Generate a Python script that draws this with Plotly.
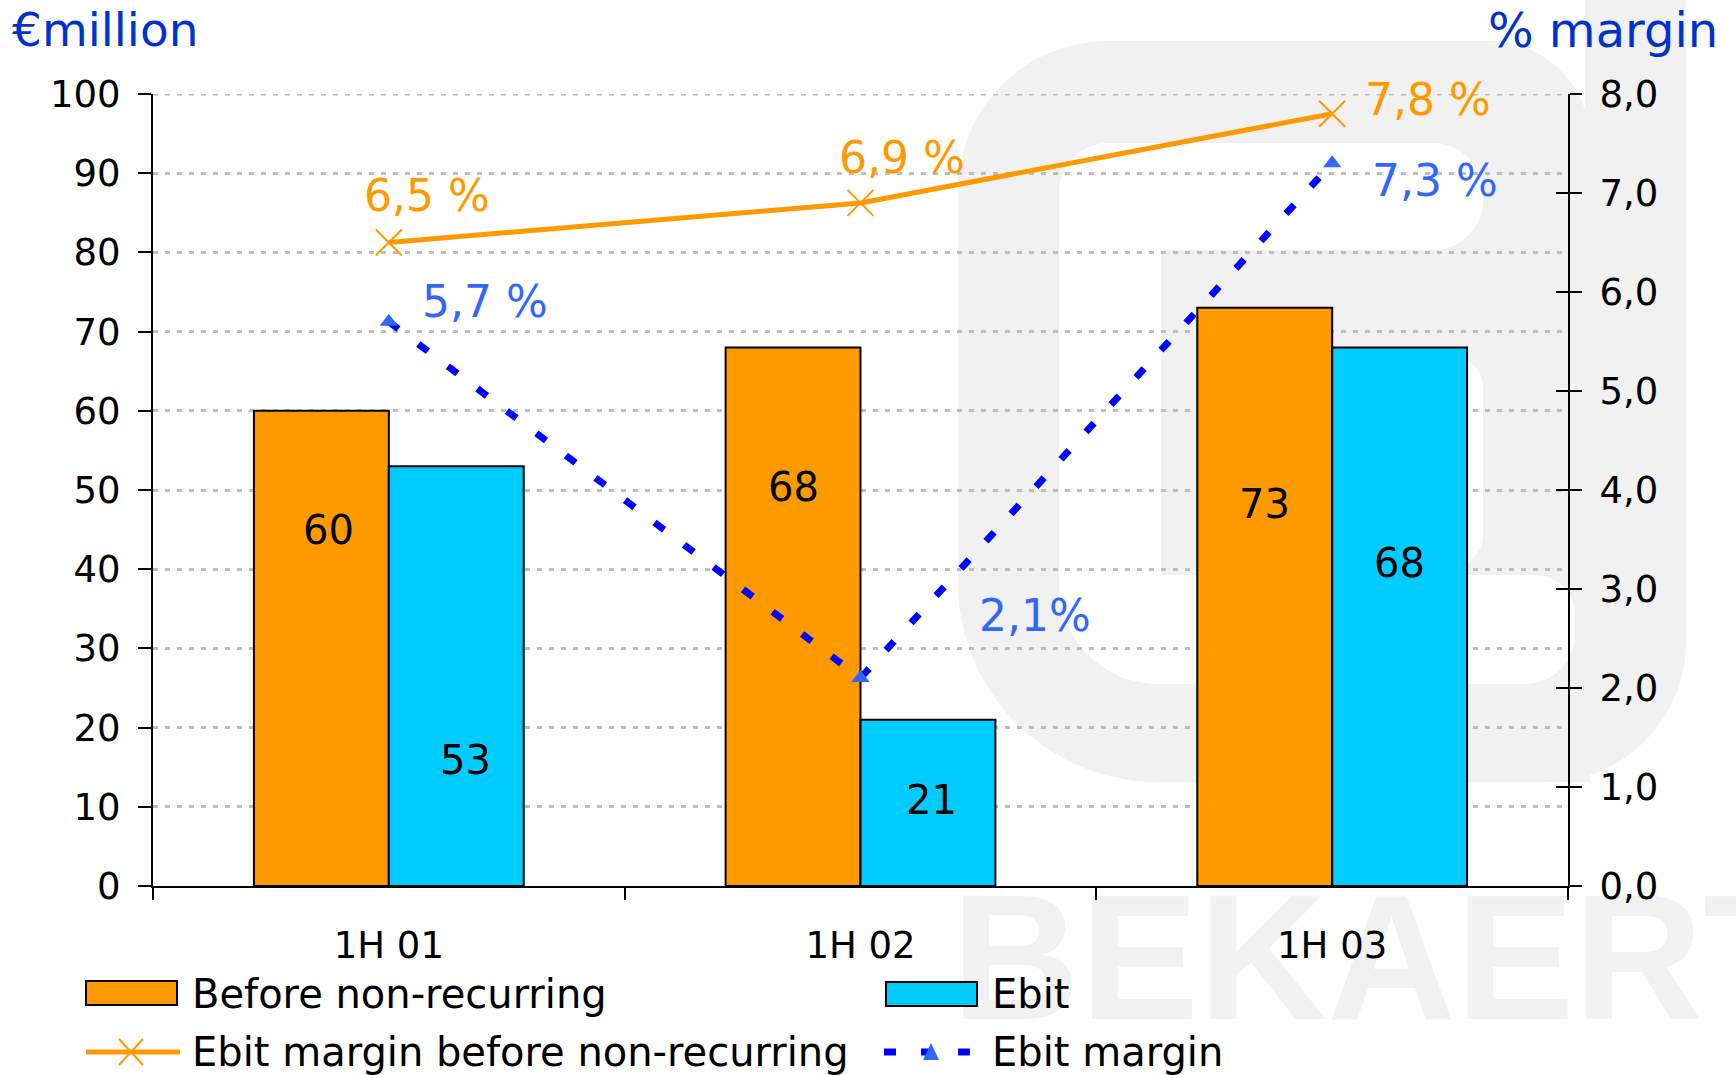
import plotly.graph_objects as go

# ---- data -------------------------------------------------------------
categories = ["1H 01", "1H 02", "1H 03"]
before_non_recurring = [60, 68, 73]          # EUR million
ebit = [53, 21, 68]                          # EUR million
margin_before_non_recurring = [6.5, 6.9, 7.8]  # % margin
ebit_margin = [5.7, 2.1, 7.3]                  # % margin
ebit_margin_suffix = [" %", "%", " %"]

amount_ticks = list(range(0, 101, 10))
margin_ticks = list(range(0, 9))
margin_tick_text = [f"{v:.1f}".replace(".", ",") for v in margin_ticks]

# ---- styling / placement ---------------------------------------------
W, H = 1736, 1075
PL, PR, PT, PB = 153, 1568, 94, 886          # plot area in pixels
FONT = "DejaVu Sans"
ORANGE = "#FF9900"
CYAN = "#00CCFF"
TITLE_BLUE = "#0033CC"
LABEL_BLUE = "#3366FF"
LINE_BLUE = "#0000FF"
WM = "#F1F1F1"                                # watermark grey
GRID = "#BEBEBE"
GRID_DASH = "5px,7px"
BW = 0.286                                    # bar width in category units

# where the value label sits, as a fraction of the bar height, plus x nudge (px)
orange_label_frac = [0.75, 0.74, 0.66]
orange_label_dx = [7, 0, 0]
cyan_label_frac = [0.30, 0.52, 0.60]
cyan_label_dx = [9, 4, 0]

# pixel offsets of the margin labels from their points
orange_pct_shift = [(38, 47), (41, 45), (96, 14)]
blue_pct_shift = [(96, 20), (174, 63), (103, -17)]


def xp(px):
    return (px - PL) / (PR - PL)


def yp(py):
    return (PB - py) / (PB - PT)


def fmt_pct(v, suffix=" %"):
    return f"{v:.1f}".replace(".", ",") + suffix


def rounded_rect(x0, y0, x1, y1, tl=0, tr=0, br=0, bl=0):
    """SVG path (paper coords) of a rectangle given in pixels with rounded corners."""
    k = 0.5523

    def P(x, y):
        return f"{xp(x):.5f},{yp(y):.5f}"

    d = [f"M{P(x0 + tl, y0)}", f"L{P(x1 - tr, y0)}"]
    if tr:
        d.append(f"C{P(x1 - tr + k * tr, y0)} {P(x1, y0 + tr - k * tr)} {P(x1, y0 + tr)}")
    d.append(f"L{P(x1, y1 - br)}")
    if br:
        d.append(f"C{P(x1, y1 - br + k * br)} {P(x1 - br + k * br, y1)} {P(x1 - br, y1)}")
    d.append(f"L{P(x0 + bl, y1)}")
    if bl:
        d.append(f"C{P(x0 + bl - k * bl, y1)} {P(x0, y1 - bl + k * bl)} {P(x0, y1 - bl)}")
    d.append(f"L{P(x0, y0 + tl)}")
    if tl:
        d.append(f"C{P(x0, y0 + tl - k * tl)} {P(x0 + tl - k * tl, y0)} {P(x0 + tl, y0)}")
    d.append("Z")
    return " ".join(d)


fig = go.Figure()

# ---- watermark word: anchored on the baseline, hanging below the axis ----
fig.add_trace(go.Scatter(
    x=[categories[-1]], y=[0.01], mode="text", text=["\u00a0\u00a0BEKAERT"],
    textposition="bottom center", cliponaxis=False,
    textfont=dict(family="Liberation Sans", size=178, color=WM, weight="bold"),
    showlegend=False, hoverinfo="skip",
))

# ---- bars -------------------------------------------------------------
fig.add_trace(go.Bar(
    x=categories, y=before_non_recurring, width=BW, offset=-BW,
    marker=dict(color=ORANGE, line=dict(color="black", width=2)),
    name="Before non-recurring", hoverinfo="skip",
))
fig.add_trace(go.Bar(
    x=categories, y=ebit, width=BW, offset=0,
    marker=dict(color=CYAN, line=dict(color="black", width=2)),
    name="Ebit", hoverinfo="skip",
))

# ---- margin lines (right axis) --------------------------------------
fig.add_trace(go.Scatter(
    x=categories, y=margin_before_non_recurring, yaxis="y2",
    mode="lines+markers",
    line=dict(color=ORANGE, width=5),
    marker=dict(symbol="x-thin-open", size=26, color=ORANGE,
                line=dict(color=ORANGE, width=2)),
    name="Ebit margin before non-recurring", hoverinfo="skip",
))
fig.add_trace(go.Scatter(
    x=categories, y=ebit_margin, yaxis="y2",
    mode="lines+markers",
    line=dict(color=LINE_BLUE, width=7, dash="12px,25px"),
    marker=dict(symbol="triangle-up", size=16, color=LABEL_BLUE),
    name="Ebit margin", hoverinfo="skip",
))
# carrier for the inner half of the right-axis tick marks
fig.add_trace(go.Scatter(x=[], y=[], yaxis="y3", showlegend=False, hoverinfo="skip"))

# ---- watermark logo shapes -------------------------------------------
shapes = []
for path, col in [
    (rounded_rect(958, 41, 1590, 782, tl=150, tr=100, bl=200), WM),
    (rounded_rect(1585, 0, 1686, 782, br=140), WM),
    (rounded_rect(1059, 143, 1483, 250, tl=50, tr=50, br=50), "white"),
    (rounded_rect(1059, 143, 1161, 684, tl=50, bl=100), "white"),
    (rounded_rect(1059, 575, 1575, 684, bl=100, br=50, tr=40), "white"),
    (rounded_rect(1265, 357, 1483, 566, tl=30, tr=30, br=30, bl=30), "white"),
]:
    shapes.append(dict(type="path", xref="paper", yref="paper", path=path,
                       fillcolor=col, line=dict(width=0), layer="below"))

# top gridline (sits on the upper edge of the value range)
shapes.append(dict(type="line", xref="paper", yref="y", x0=0, x1=1,
                   y0=amount_ticks[-1], y1=amount_ticks[-1], layer="below",
                   line=dict(color=GRID, width=3, dash=GRID_DASH)))

# ---- legend drawn by hand --------------------------------------------
shapes += [
    dict(type="rect", xref="paper", yref="paper", x0=xp(86), x1=xp(177), y0=yp(981), y1=yp(1005),
         fillcolor=ORANGE, line=dict(color="black", width=2)),
    dict(type="rect", xref="paper", yref="paper", x0=xp(886), x1=xp(977), y0=yp(982), y1=yp(1006),
         fillcolor=CYAN, line=dict(color="black", width=2)),
    dict(type="line", xref="paper", yref="paper", x0=xp(86), x1=xp(180), y0=yp(1052), y1=yp(1052),
         line=dict(color=ORANGE, width=5)),
    dict(type="line", xref="paper", yref="paper", x0=xp(119), x1=xp(143), y0=yp(1039), y1=yp(1065),
         line=dict(color=ORANGE, width=2)),
    dict(type="line", xref="paper", yref="paper", x0=xp(119), x1=xp(143), y0=yp(1065), y1=yp(1039),
         line=dict(color=ORANGE, width=2)),
    dict(type="line", xref="paper", yref="paper", x0=xp(884), x1=xp(970), y0=yp(1052), y1=yp(1052),
         line=dict(color=LINE_BLUE, width=7, dash="12px,25px")),
    dict(type="path", xref="paper", yref="paper",
         path=f"M{xp(923)},{yp(1060)} L{xp(939)},{yp(1060)} L{xp(931)},{yp(1043)} Z",
         fillcolor=LABEL_BLUE, line=dict(width=0)),
]

annotations = []


def note(text, x, y, size, color="black", xanchor="left", yanchor="middle", **kw):
    annotations.append(dict(text=text, x=x, y=y, showarrow=False, xanchor=xanchor,
                            yanchor=yanchor, font=dict(family=FONT, size=size, color=color), **kw))


# legend text
note("Before non-recurring", xp(190), yp(994), 40, xref="paper", yref="paper")
note("Ebit", xp(990), yp(994), 40, xref="paper", yref="paper")
note("Ebit margin before non-recurring", xp(190), yp(1052), 40, xref="paper", yref="paper")
note("Ebit margin", xp(990), yp(1052), 40, xref="paper", yref="paper")

# axis titles
note("€million", xp(10), yp(30), 47, TITLE_BLUE, xref="paper", yref="paper")
note("% margin", xp(1720), yp(30), 48, TITLE_BLUE, xanchor="right", xref="paper", yref="paper")

# bar value labels
for i, v in enumerate(before_non_recurring):
    note(str(v), i - BW / 2, v * orange_label_frac[i], 40, xanchor="center",
         xref="x", yref="y", xshift=orange_label_dx[i])
for i, v in enumerate(ebit):
    note(str(v), i + BW / 2, v * cyan_label_frac[i], 40, xanchor="center",
         xref="x", yref="y", xshift=cyan_label_dx[i])

# margin labels
for i, v in enumerate(margin_before_non_recurring):
    dx, dy = orange_pct_shift[i]
    note(fmt_pct(v), i, v, 44, ORANGE, xanchor="center", xref="x", yref="y2",
         xshift=dx, yshift=dy)
for i, v in enumerate(ebit_margin):
    dx, dy = blue_pct_shift[i]
    note(fmt_pct(v, ebit_margin_suffix[i]), i, v, 44, LABEL_BLUE, xanchor="center",
         xref="x", yref="y2", xshift=dx, yshift=dy)

tickfont = dict(family=FONT, size=37, color="black")

fig.update_layout(
    width=W, height=H,
    margin=dict(l=PL, r=W - PR, t=PT, b=H - PB, pad=0),
    paper_bgcolor="white", plot_bgcolor="rgba(0,0,0,0)",
    showlegend=False, barmode="overlay",
    font=dict(family=FONT, color="black"),
    xaxis=dict(type="category", categoryorder="array", categoryarray=categories,
               range=[-0.5, 2.5], tickson="boundaries",
               ticks="outside", ticklen=12, tickwidth=2, tickcolor="black",
               showline=True, linecolor="black", linewidth=2,
               showgrid=False, zeroline=False, tickfont=tickfont,
               ticklabelstandoff=26, fixedrange=True),
    yaxis=dict(range=[0, 100], tickvals=amount_ticks, ticks="outside", ticklen=13,
               tickwidth=2, tickcolor="black", showline=True, linecolor="black",
               linewidth=2, showgrid=True, gridcolor=GRID, gridwidth=3,
               griddash=GRID_DASH, zeroline=False, tickfont=tickfont,
               ticklabelstandoff=10, fixedrange=True),
    yaxis2=dict(overlaying="y", side="right", anchor="x", range=[0, 8],
                tickvals=margin_ticks, ticktext=margin_tick_text,
                ticks="outside", ticklen=12, tickwidth=2, tickcolor="black",
                showline=True, linecolor="black", linewidth=2,
                showgrid=False, zeroline=False, tickfont=tickfont,
                ticklabelstandoff=10, fixedrange=True),
    yaxis3=dict(overlaying="y", side="right", anchor="x", range=[0, 8],
                tickvals=margin_ticks, ticks="inside", ticklen=12, tickwidth=2,
                tickcolor="black", showticklabels=False, showline=False,
                showgrid=False, zeroline=False, fixedrange=True),
    shapes=shapes,
    annotations=annotations,
)

fig.write_html("out.html")
